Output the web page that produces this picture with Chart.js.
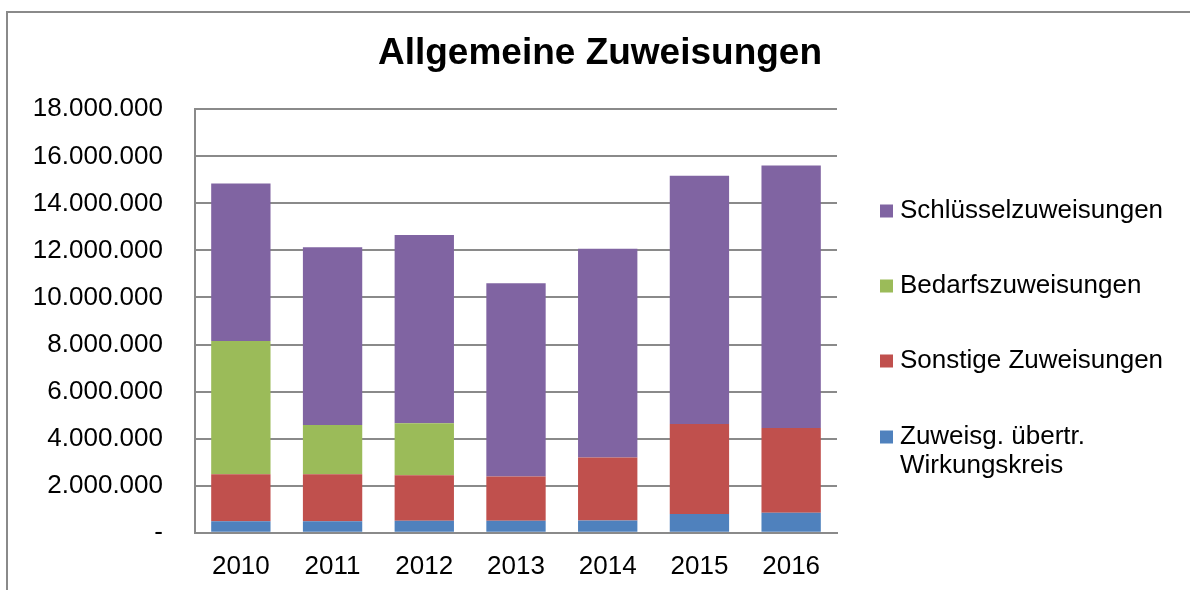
<!DOCTYPE html>
<html>
<head>
<meta charset="utf-8">
<script src="https://cdn.jsdelivr.net/npm/chart.js@4.4.0/dist/chart.umd.min.js"></script>
<style>
  html, body { margin: 0; padding: 0; background: #fff; }
  #wrap { width: 1190px; height: 590px; }
</style>
</head>
<body>
<div id="wrap"><canvas id="zuweisungenChart" width="1190" height="590"></canvas></div>
<script>
// values per year
const years = ['2010', '2011', '2012', '2013', '2014', '2015', '2016'];
const series = [
  { label: ['Zuweisg. übertr.', 'Wirkungskreis'], color: '#4F81BD',
    data: [490000, 490000, 510000, 510000, 520000, 800000, 850000] },
  { label: ['Sonstige Zuweisungen'], color: '#C0504D',
    data: [1990000, 2000000, 1930000, 1880000, 2680000, 3820000, 3600000] },
  { label: ['Bedarfszuweisungen'], color: '#9BBB59',
    data: [5670000, 2090000, 2210000, 0, 0, 0, 0] },
  { label: ['Schlüsselzuweisungen'], color: '#8064A2',
    data: [6700000, 7560000, 8010000, 8220000, 8870000, 10560000, 11160000] }
];

const FONT = "'Liberation Sans', Arial, sans-serif";
const GRID = '#8a8a8a';

function fmt(v) {
  if (v === 0) return '-';
  return String(Math.round(v)).replace(/\B(?=(\d{3})+(?!\d))/g, '.');
}

// frame, title (centred on the whole picture) and legend on the right
const framePlugin = {
  id: 'frameAndLegend',
  beforeDraw(chart) {
    const c = chart.ctx;
    c.save();
    c.strokeStyle = '#8a8a8a';
    c.lineWidth = 2;
    c.beginPath();
    c.moveTo(7, 600);
    c.lineTo(7, 12);
    c.lineTo(1200, 12);
    c.stroke();
    c.restore();
  },
  afterDraw(chart) {
    const c = chart.ctx;
    c.save();
    c.fillStyle = '#000';
    c.font = 'bold 37px ' + FONT;
    c.textAlign = 'center';
    c.textBaseline = 'middle';
    c.fillText('Allgemeine Zuweisungen', 600, 54);

    // legend entries in reverse stacking order
    const rows = [[211], [286], [361], [437, 466]];
    c.font = '26px ' + FONT;
    c.textAlign = 'left';
    for (let i = series.length - 1, r = 0; i >= 0; i--, r++) {
      const s = series[i];
      const ys = rows[r];
      c.fillStyle = s.color;
      c.fillRect(880, ys[0] - 6.5, 13, 13);
      c.fillStyle = '#000';
      s.label.forEach((t, k) => c.fillText(t, 900, ys[k]));
    }
    c.restore();
  }
};

const ctx = document.getElementById('zuweisungenChart').getContext('2d');
const chart = new Chart(ctx, {
  type: 'bar',
  data: {
    labels: years,
    datasets: series.map(s => ({
      label: s.label.join(' '),
      data: s.data,
      backgroundColor: s.color,
      borderWidth: 0,
      barPercentage: 0.647,
      categoryPercentage: 1
    }))
  },
  options: {
    responsive: false,
    animation: false,
    layout: { padding: { left: 0, right: 353, top: 109.3, bottom: 0 } },
    plugins: {
      legend: { display: false },
      tooltip: { enabled: false },
      title: { display: false }
    },
    scales: {
      x: {
        stacked: true,
        grid: { display: false, drawTicks: false },
        border: { display: true, color: GRID, width: 2 },
        ticks: { color: '#000', font: { family: FONT, size: 26 }, padding: 19, maxRotation: 0 },
        afterFit(scale) { scale.height = 57.3; }
      },
      y: {
        stacked: true,
        min: 0,
        max: 18000000,
        grid: { color: GRID, lineWidth: 2, drawTicks: false },
        border: { display: true, color: GRID, width: 2 },
        ticks: {
          stepSize: 2000000,
          color: '#000',
          font: { family: FONT, size: 26 },
          padding: 32,
          callback: v => fmt(v)
        },
        afterFit(scale) { scale.width = 195; }
      }
    }
  },
  plugins: [framePlugin]
});
</script>
</body>
</html>
